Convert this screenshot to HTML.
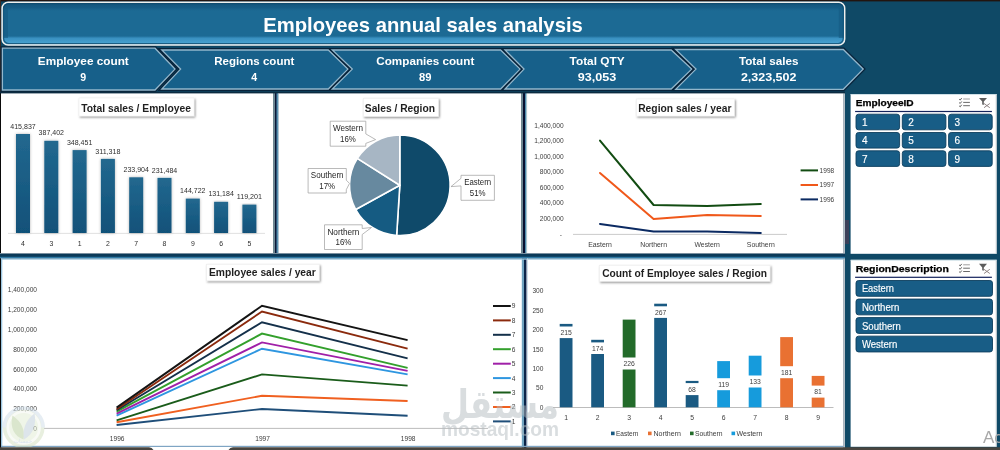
<!DOCTYPE html>
<html lang="en"><head><meta charset="utf-8"><title>Employees annual sales analysis</title>
<style>html,body{margin:0;padding:0;background:#0f4966;overflow:hidden}svg{display:block;font-family:"Liberation Sans", sans-serif}</style>
</head><body>
<svg width="1000" height="450" viewBox="0 0 1000 450">
<defs>
<linearGradient id="gTitle" x1="0" y1="0" x2="0" y2="1">
<stop offset="0" stop-color="#12537a"/><stop offset="0.13" stop-color="#165d86"/><stop offset="0.2" stop-color="#1c6a94"/><stop offset="0.79" stop-color="#1c6a94"/><stop offset="0.84" stop-color="#3990c0"/><stop offset="0.96" stop-color="#47a1d0"/><stop offset="1" stop-color="#2c7eae"/>
</linearGradient>
<linearGradient id="gBar" x1="0" y1="0" x2="0" y2="1">
<stop offset="0" stop-color="#22688f"/><stop offset="1" stop-color="#115179"/>
</linearGradient>
<linearGradient id="gSepH" x1="0" y1="0" x2="0" y2="1">
<stop offset="0" stop-color="#7d93a3"/><stop offset="0.2" stop-color="#0c3c5a"/><stop offset="0.6" stop-color="#0e4566"/><stop offset="0.8" stop-color="#2f7aa5"/><stop offset="1" stop-color="#9cc4dc"/>
</linearGradient>
<filter id="sh" x="-10%" y="-20%" width="125%" height="160%"><feDropShadow dx="1" dy="1.2" stdDeviation="0.9" flood-color="#000" flood-opacity="0.45"/></filter>
<filter id="csh" x="-10%" y="-20%" width="120%" height="140%"><feGaussianBlur stdDeviation="1.6"/></filter>
<filter id="bsh" x="-40%" y="-5%" width="180%" height="110%"><feDropShadow dx="0" dy="0" stdDeviation="1.5" flood-color="#000" flood-opacity="0.3"/></filter>
</defs>
<rect x="0" y="0" width="1000" height="450" fill="#0f4966"/>
<rect x="0" y="0" width="1000" height="1.4" fill="#22140f"/>
<rect x="0" y="0" width="1" height="92" fill="#3a2a22"/>
<rect x="2.1" y="2.2" width="842.6" height="42.8" rx="6" ry="6" fill="#0a2a42" opacity="0.55" filter="url(#csh)"/>
<rect x="2.1" y="2.2" width="842.6" height="42.8" rx="6" ry="6" fill="url(#gTitle)" stroke="#f0f0ee" stroke-width="1.5"/>
<rect x="3.6" y="3.7" width="839.6" height="39.8" rx="5" ry="5" fill="none" stroke="#0f4a6b" stroke-width="1.2" opacity="0.75"/>
<rect x="3" y="8" width="5" height="30" fill="#145a82" opacity="0.6"/>
<rect x="838.8" y="8" width="5" height="30" fill="#145a82" opacity="0.6"/>
<text x="263.2" y="31.9" font-size="20.6" fill="#ffffff" font-weight="bold" textLength="319.6" lengthAdjust="spacingAndGlyphs">Employees annual sales analysis</text>
<polygon points="675.7,49.5 843.3,49.5 863.2,69.1 843.3,89.3 675.7,89.3" fill="#0a2a42" opacity="0.5" filter="url(#csh)"/>
<polygon points="2.4,48.2 155,48.2 175,69.1 155,90 2.4,90" fill="#17608a" stroke="#08233a" stroke-width="3.8" stroke-linejoin="miter"/>
<polygon points="2.4,48.2 155,48.2 175,69.1 155,90 2.4,90" fill="#17608a" stroke="#93b7cc" stroke-width="1.3" stroke-linejoin="miter"/>
<polygon points="161.8,50 328.3,50 347.9,69.1 328.3,89 161.8,89 180.6,69.1" fill="#17608a" stroke="#08233a" stroke-width="3.8" stroke-linejoin="miter"/>
<polygon points="161.8,50 328.3,50 347.9,69.1 328.3,89 161.8,89 180.6,69.1" fill="#17608a" stroke="#93b7cc" stroke-width="1.3" stroke-linejoin="miter"/>
<polygon points="332.3,50 500.6,50 520.1,69.1 500.6,89 332.3,89 352.3,69.1" fill="#17608a" stroke="#08233a" stroke-width="3.8" stroke-linejoin="miter"/>
<polygon points="332.3,50 500.6,50 520.1,69.1 500.6,89 332.3,89 352.3,69.1" fill="#17608a" stroke="#93b7cc" stroke-width="1.3" stroke-linejoin="miter"/>
<polygon points="505,50 671.2,50 691.7,69.1 671.2,89 505,89 524,69.1" fill="#17608a" stroke="#08233a" stroke-width="3.8" stroke-linejoin="miter"/>
<polygon points="505,50 671.2,50 691.7,69.1 671.2,89 505,89 524,69.1" fill="#17608a" stroke="#93b7cc" stroke-width="1.3" stroke-linejoin="miter"/>
<polygon points="675.7,49.5 843.3,49.5 863.2,69.1 843.3,89.3 675.7,89.3 696,69.1" fill="#17608a" stroke="#08233a" stroke-width="3.8" stroke-linejoin="miter"/>
<polygon points="675.7,49.5 843.3,49.5 863.2,69.1 843.3,89.3 675.7,89.3 696,69.1" fill="#17608a" stroke="#93b7cc" stroke-width="1.3" stroke-linejoin="miter"/>
<text x="83.3" y="65" font-size="10.6" fill="#ffffff" text-anchor="middle" font-weight="bold" textLength="91" lengthAdjust="spacingAndGlyphs">Employee count</text>
<text x="83.3" y="81.2" font-size="10.6" fill="#ffffff" text-anchor="middle" font-weight="bold">9</text>
<text x="254.3" y="65" font-size="10.6" fill="#ffffff" text-anchor="middle" font-weight="bold" textLength="80" lengthAdjust="spacingAndGlyphs">Regions count</text>
<text x="254.3" y="81.2" font-size="10.6" fill="#ffffff" text-anchor="middle" font-weight="bold">4</text>
<text x="425.3" y="65" font-size="10.6" fill="#ffffff" text-anchor="middle" font-weight="bold" textLength="98" lengthAdjust="spacingAndGlyphs">Companies count</text>
<text x="425.3" y="81.2" font-size="10.6" fill="#ffffff" text-anchor="middle" font-weight="bold" textLength="12.5" lengthAdjust="spacingAndGlyphs">89</text>
<text x="597.0999999999999" y="65" font-size="10.6" fill="#ffffff" text-anchor="middle" font-weight="bold" textLength="55" lengthAdjust="spacingAndGlyphs">Total QTY</text>
<text x="597.0999999999999" y="81.2" font-size="10.6" fill="#ffffff" text-anchor="middle" font-weight="bold" textLength="38.5" lengthAdjust="spacingAndGlyphs">93,053</text>
<text x="768.6999999999999" y="65" font-size="10.6" fill="#ffffff" text-anchor="middle" font-weight="bold" textLength="59.5" lengthAdjust="spacingAndGlyphs">Total sales</text>
<text x="768.6999999999999" y="81.2" font-size="10.6" fill="#ffffff" text-anchor="middle" font-weight="bold" textLength="55.5" lengthAdjust="spacingAndGlyphs">2,323,502</text>
<rect x="0" y="91.6" width="845" height="358.4" fill="#0c2c42"/>
<rect x="0" y="93.4" width="1" height="357" fill="#0a0a0a"/>
<rect x="1" y="93.4" width="272" height="160" fill="#ffffff"/>
<rect x="278.4" y="93.4" width="242.6" height="160" fill="#ffffff"/>
<rect x="527" y="93.4" width="316.6" height="160" fill="#ffffff"/>
<rect x="1" y="258.6" width="521" height="192" fill="#ffffff"/>
<rect x="527" y="258.6" width="316.6" height="192" fill="#ffffff"/>
<rect x="273" y="93.4" width="2.1" height="160" fill="#6e8792"/>
<rect x="275" y="93.4" width="1.6" height="160" fill="#0a1838"/>
<rect x="276.5" y="93.4" width="1.5" height="160" fill="#4d87ab"/>
<rect x="277.9" y="93.4" width="0.8" height="160" fill="#b9d2df"/>
<rect x="521" y="93.4" width="2.1" height="160" fill="#6e8792"/>
<rect x="523" y="93.4" width="2.1" height="160" fill="#061030"/>
<rect x="525" y="93.4" width="1.1" height="160" fill="#4d87ab"/>
<rect x="526" y="93.4" width="1.1" height="160" fill="#a9c7d0"/>
<rect x="521.8" y="259" width="2.3" height="191" fill="#6fa3c0"/>
<rect x="524" y="259" width="2.1" height="191" fill="#0a2448"/>
<rect x="526" y="259" width="1.1" height="191" fill="#8d93a8"/>
<rect x="843.5" y="93.4" width="1.5" height="357" fill="#b4bfc7"/>
<rect x="845" y="91.6" width="2" height="360" fill="#0f4966"/>
<rect x="845" y="220" width="4" height="24" fill="#3b4059"/>
<rect x="0" y="253" width="845" height="1" fill="#7a8f9f"/>
<rect x="0" y="254" width="845" height="3" fill="#0b3a59"/>
<rect x="0" y="256.8" width="845" height="1.6" fill="#2f7aa5"/>
<rect x="1" y="258.4" width="842.5" height="1.3" fill="#9cc6e0"/>
<rect x="1" y="258.4" width="1.3" height="192" fill="#9cc6e0"/>
<rect x="527" y="258.4" width="0.8" height="192" fill="#c5dcea"/>
<rect x="1" y="445.8" width="842.5" height="1.2" fill="#7fa5c4"/>
<rect x="79" y="98" width="115" height="18" fill="#ffffff" stroke="#ececec" stroke-width="0.5" filter="url(#sh)"/>
<text x="81.3" y="112" font-size="10.4" fill="#1f1f1f" font-weight="bold" textLength="109.6" lengthAdjust="spacingAndGlyphs">Total sales / Employee</text>
<line x1="8" y1="233.4" x2="265" y2="233.4" stroke="#d9d9d9" stroke-width="0.8"/>
<rect x="16.0" y="134.0" width="14" height="99.0" fill="url(#gBar)" filter="url(#bsh)"/>
<text x="23.0" y="128.6" font-size="6.5" fill="#2e2e2e" text-anchor="middle" textLength="25.4" lengthAdjust="spacingAndGlyphs">415,837</text>
<text x="23.0" y="246.1" font-size="6.9" fill="#2e2e2e" text-anchor="middle">4</text>
<rect x="44.3" y="140.8" width="14" height="92.2" fill="url(#gBar)" filter="url(#bsh)"/>
<text x="51.3" y="135.4" font-size="6.5" fill="#2e2e2e" text-anchor="middle" textLength="25.4" lengthAdjust="spacingAndGlyphs">387,402</text>
<text x="51.3" y="246.1" font-size="6.9" fill="#2e2e2e" text-anchor="middle">3</text>
<rect x="72.6" y="150.1" width="14" height="82.9" fill="url(#gBar)" filter="url(#bsh)"/>
<text x="79.6" y="144.7" font-size="6.5" fill="#2e2e2e" text-anchor="middle" textLength="25.4" lengthAdjust="spacingAndGlyphs">348,451</text>
<text x="79.6" y="246.1" font-size="6.9" fill="#2e2e2e" text-anchor="middle">1</text>
<rect x="100.9" y="158.9" width="14" height="74.1" fill="url(#gBar)" filter="url(#bsh)"/>
<text x="107.9" y="153.5" font-size="6.5" fill="#2e2e2e" text-anchor="middle" textLength="25.4" lengthAdjust="spacingAndGlyphs">311,318</text>
<text x="107.9" y="246.1" font-size="6.9" fill="#2e2e2e" text-anchor="middle">2</text>
<rect x="129.2" y="177.3" width="14" height="55.7" fill="url(#gBar)" filter="url(#bsh)"/>
<text x="136.2" y="171.9" font-size="6.5" fill="#2e2e2e" text-anchor="middle" textLength="25.4" lengthAdjust="spacingAndGlyphs">233,904</text>
<text x="136.2" y="246.1" font-size="6.9" fill="#2e2e2e" text-anchor="middle">7</text>
<rect x="157.5" y="177.9" width="14" height="55.1" fill="url(#gBar)" filter="url(#bsh)"/>
<text x="164.5" y="172.5" font-size="6.5" fill="#2e2e2e" text-anchor="middle" textLength="25.4" lengthAdjust="spacingAndGlyphs">231,484</text>
<text x="164.5" y="246.1" font-size="6.9" fill="#2e2e2e" text-anchor="middle">8</text>
<rect x="185.8" y="198.6" width="14" height="34.4" fill="url(#gBar)" filter="url(#bsh)"/>
<text x="192.8" y="193.2" font-size="6.5" fill="#2e2e2e" text-anchor="middle" textLength="25.4" lengthAdjust="spacingAndGlyphs">144,722</text>
<text x="192.8" y="246.1" font-size="6.9" fill="#2e2e2e" text-anchor="middle">9</text>
<rect x="214.1" y="201.8" width="14" height="31.2" fill="url(#gBar)" filter="url(#bsh)"/>
<text x="221.1" y="196.4" font-size="6.5" fill="#2e2e2e" text-anchor="middle" textLength="25.4" lengthAdjust="spacingAndGlyphs">131,184</text>
<text x="221.1" y="246.1" font-size="6.9" fill="#2e2e2e" text-anchor="middle">6</text>
<rect x="242.4" y="204.6" width="14" height="28.4" fill="url(#gBar)" filter="url(#bsh)"/>
<text x="249.4" y="199.2" font-size="6.5" fill="#2e2e2e" text-anchor="middle" textLength="25.4" lengthAdjust="spacingAndGlyphs">119,201</text>
<text x="249.4" y="246.1" font-size="6.9" fill="#2e2e2e" text-anchor="middle">5</text>
<rect x="363.4" y="98.4" width="75.0" height="18.0" fill="#ffffff" stroke="#ececec" stroke-width="0.5" filter="url(#sh)"/>
<text x="364.8" y="112" font-size="10.4" fill="#1f1f1f" font-weight="bold" textLength="70.2" lengthAdjust="spacingAndGlyphs">Sales / Region</text>
<path d="M399.8,185.3 L399.80,135.00 A50.3,50.3 0 1 1 396.64,235.50 Z" fill="#0f4a6a" stroke="#ffffff" stroke-width="1.6" stroke-linejoin="round"/>
<path d="M399.8,185.3 L396.64,235.50 A50.3,50.3 0 0 1 355.72,209.53 Z" fill="#155b82" stroke="#ffffff" stroke-width="1.6" stroke-linejoin="round"/>
<path d="M399.8,185.3 L355.72,209.53 A50.3,50.3 0 0 1 357.33,158.35 Z" fill="#67899f" stroke="#ffffff" stroke-width="1.6" stroke-linejoin="round"/>
<path d="M399.8,185.3 L357.33,158.35 A50.3,50.3 0 0 1 399.80,135.00 Z" fill="#a7b6c4" stroke="#ffffff" stroke-width="1.6" stroke-linejoin="round"/>
<polygon points="330.2,121.2 365.8,121.2 365.8,133.9 375.6,139.6 365.8,143.4 365.8,146.2 330.2,146.2" fill="#ffffff" stroke="#9c9c9c" stroke-width="0.7"/>
<text x="348.0" y="130.9" font-size="8.8" fill="#262626" text-anchor="middle" textLength="30" lengthAdjust="spacingAndGlyphs">Western</text>
<text x="348.0" y="141.8" font-size="8.8" fill="#262626" text-anchor="middle" textLength="15.8" lengthAdjust="spacingAndGlyphs">16%</text>
<polygon points="308.1,168.5 346.3,168.5 346.3,180.2 349.5,183.4 346.3,189.7 346.3,193 308.1,193" fill="#ffffff" stroke="#9c9c9c" stroke-width="0.7"/>
<text x="327.2" y="178.2" font-size="8.8" fill="#262626" text-anchor="middle" textLength="32.7" lengthAdjust="spacingAndGlyphs">Southern</text>
<text x="327.2" y="189.1" font-size="8.8" fill="#262626" text-anchor="middle" textLength="15.8" lengthAdjust="spacingAndGlyphs">17%</text>
<polygon points="324.5,224.8 362.2,224.8 362.2,228.5 371.5,227.5 362.2,234.5 362.2,249.5 324.5,249.5" fill="#ffffff" stroke="#9c9c9c" stroke-width="0.7"/>
<text x="343.4" y="234.5" font-size="8.8" fill="#262626" text-anchor="middle" textLength="32" lengthAdjust="spacingAndGlyphs">Northern</text>
<text x="343.4" y="245.4" font-size="8.8" fill="#262626" text-anchor="middle" textLength="15.8" lengthAdjust="spacingAndGlyphs">16%</text>
<polygon points="461,175.3 494.4,175.3 494.4,200.3 461,200.3 461,185.9 451,186.6 461,178.3" fill="#ffffff" stroke="#9c9c9c" stroke-width="0.7"/>
<text x="477.7" y="185.0" font-size="8.8" fill="#262626" text-anchor="middle" textLength="27" lengthAdjust="spacingAndGlyphs">Eastern</text>
<text x="477.7" y="195.9" font-size="8.8" fill="#262626" text-anchor="middle" textLength="15.8" lengthAdjust="spacingAndGlyphs">51%</text>
<rect x="636.4" y="99" width="98.0" height="17" fill="#ffffff" stroke="#ececec" stroke-width="0.5" filter="url(#sh)"/>
<text x="638.2" y="112" font-size="10.4" fill="#1f1f1f" font-weight="bold" textLength="93.3" lengthAdjust="spacingAndGlyphs">Region sales / year</text>
<text x="563.6" y="127.8" font-size="6.6" fill="#3c3c3c" text-anchor="end">1,400,000</text>
<text x="563.6" y="143.2" font-size="6.6" fill="#3c3c3c" text-anchor="end">1,200,000</text>
<text x="563.6" y="158.7" font-size="6.6" fill="#3c3c3c" text-anchor="end">1,000,000</text>
<text x="563.6" y="174.2" font-size="6.6" fill="#3c3c3c" text-anchor="end">800,000</text>
<text x="563.6" y="189.6" font-size="6.6" fill="#3c3c3c" text-anchor="end">600,000</text>
<text x="563.6" y="205.1" font-size="6.6" fill="#3c3c3c" text-anchor="end">400,000</text>
<text x="563.6" y="220.5" font-size="6.6" fill="#3c3c3c" text-anchor="end">200,000</text>
<text x="562" y="237" font-size="6.6" fill="#3c3c3c" text-anchor="end">-</text>
<line x1="573" y1="234.4" x2="787" y2="234.4" stroke="#c4c4c4" stroke-width="0.9"/>
<polyline points="600,224 653.6,231.6 707.2,231.6 760.8,233" fill="none" stroke="#0b2a62" stroke-width="2" stroke-linejoin="round" stroke-linecap="round"/>
<polyline points="600,173 653.6,219 707.2,215 760.8,216" fill="none" stroke="#f0581a" stroke-width="2" stroke-linejoin="round" stroke-linecap="round"/>
<polyline points="600,140.6 653.6,205 707.2,206 760.8,204" fill="none" stroke="#124c12" stroke-width="2" stroke-linejoin="round" stroke-linecap="round"/>
<text x="600" y="246.8" font-size="6.9" fill="#3c3c3c" text-anchor="middle">Eastern</text>
<text x="653.6" y="246.8" font-size="6.9" fill="#3c3c3c" text-anchor="middle">Northern</text>
<text x="707.2" y="246.8" font-size="6.9" fill="#3c3c3c" text-anchor="middle">Western</text>
<text x="760.8" y="246.8" font-size="6.9" fill="#3c3c3c" text-anchor="middle">Southern</text>
<line x1="800.6" y1="170.4" x2="818" y2="170.4" stroke="#124c12" stroke-width="2"/>
<text x="819.6" y="172.8" font-size="6.6" fill="#3c3c3c" textLength="14.6" lengthAdjust="spacingAndGlyphs">1998</text>
<line x1="800.6" y1="185" x2="818" y2="185" stroke="#f0581a" stroke-width="2"/>
<text x="819.6" y="187.4" font-size="6.6" fill="#3c3c3c" textLength="14.6" lengthAdjust="spacingAndGlyphs">1997</text>
<line x1="800.6" y1="199.4" x2="818" y2="199.4" stroke="#0b2a62" stroke-width="2"/>
<text x="819.6" y="201.8" font-size="6.6" fill="#3c3c3c" textLength="14.6" lengthAdjust="spacingAndGlyphs">1996</text>
<rect x="206.7" y="264.4" width="112.5" height="16.400000000000034" fill="#ffffff" stroke="#ececec" stroke-width="0.5" filter="url(#sh)"/>
<text x="209" y="275.8" font-size="10.4" fill="#1f1f1f" font-weight="bold" textLength="106.8" lengthAdjust="spacingAndGlyphs">Employee sales / year</text>
<text x="37" y="292.3" font-size="6.6" fill="#3c3c3c" text-anchor="end">1,400,000</text>
<text x="37" y="312.1" font-size="6.6" fill="#3c3c3c" text-anchor="end">1,200,000</text>
<text x="37" y="331.9" font-size="6.6" fill="#3c3c3c" text-anchor="end">1,000,000</text>
<text x="37" y="351.7" font-size="6.6" fill="#3c3c3c" text-anchor="end">800,000</text>
<text x="37" y="371.5" font-size="6.6" fill="#3c3c3c" text-anchor="end">600,000</text>
<text x="37" y="391.3" font-size="6.6" fill="#3c3c3c" text-anchor="end">400,000</text>
<text x="37" y="411.1" font-size="6.6" fill="#3c3c3c" text-anchor="end">200,000</text>
<text x="37" y="430.9" font-size="6.6" fill="#3c3c3c" text-anchor="end">0</text>
<line x1="44" y1="428.4" x2="488" y2="428.4" stroke="#b4b4b4" stroke-width="0.9"/>
<polyline points="116.6,425 262,409 407.6,415.8" fill="none" stroke="#1f4e79" stroke-width="1.9" stroke-linejoin="miter"/>
<polyline points="116.6,422.3 262,395.8 407.6,401" fill="none" stroke="#f06020" stroke-width="1.9" stroke-linejoin="miter"/>
<polyline points="116.6,420.4 262,374.4 407.6,385.6" fill="none" stroke="#1a5c1a" stroke-width="1.9" stroke-linejoin="miter"/>
<polyline points="116.6,415.6 262,348.7 407.6,374.4" fill="none" stroke="#2e96e0" stroke-width="1.9" stroke-linejoin="miter"/>
<polyline points="116.6,413.7 262,342.4 407.6,370.9" fill="none" stroke="#a020a8" stroke-width="1.9" stroke-linejoin="miter"/>
<polyline points="116.6,411.6 262,333.6 407.6,367.8" fill="none" stroke="#33a02c" stroke-width="1.9" stroke-linejoin="miter"/>
<polyline points="116.6,410.3 262,322.3 407.6,358.4" fill="none" stroke="#14304a" stroke-width="1.9" stroke-linejoin="miter"/>
<polyline points="116.6,409.3 262,311.5 407.6,348.7" fill="none" stroke="#8b2a0d" stroke-width="1.9" stroke-linejoin="miter"/>
<polyline points="116.6,407.6 262,305.8 407.6,340.2" fill="none" stroke="#141414" stroke-width="1.9" stroke-linejoin="miter"/>
<text x="117.19999999999999" y="441.2" font-size="6.6" fill="#3c3c3c" text-anchor="middle">1996</text>
<text x="262.6" y="441.2" font-size="6.6" fill="#3c3c3c" text-anchor="middle">1997</text>
<text x="408.20000000000005" y="441.2" font-size="6.6" fill="#3c3c3c" text-anchor="middle">1998</text>
<line x1="493" y1="421.4" x2="510.8" y2="421.4" stroke="#1f4e79" stroke-width="2"/>
<text x="511.8" y="423.8" font-size="6.6" fill="#3c3c3c">1</text>
<line x1="493" y1="407.0" x2="510.8" y2="407.0" stroke="#f06020" stroke-width="2"/>
<text x="511.8" y="409.4" font-size="6.6" fill="#3c3c3c">2</text>
<line x1="493" y1="392.5" x2="510.8" y2="392.5" stroke="#1a5c1a" stroke-width="2"/>
<text x="511.8" y="394.9" font-size="6.6" fill="#3c3c3c">3</text>
<line x1="493" y1="378.1" x2="510.8" y2="378.1" stroke="#2e96e0" stroke-width="2"/>
<text x="511.8" y="380.5" font-size="6.6" fill="#3c3c3c">4</text>
<line x1="493" y1="363.7" x2="510.8" y2="363.7" stroke="#a020a8" stroke-width="2"/>
<text x="511.8" y="366.1" font-size="6.6" fill="#3c3c3c">5</text>
<line x1="493" y1="349.2" x2="510.8" y2="349.2" stroke="#33a02c" stroke-width="2"/>
<text x="511.8" y="351.6" font-size="6.6" fill="#3c3c3c">6</text>
<line x1="493" y1="334.8" x2="510.8" y2="334.8" stroke="#14304a" stroke-width="2"/>
<text x="511.8" y="337.2" font-size="6.6" fill="#3c3c3c">7</text>
<line x1="493" y1="320.4" x2="510.8" y2="320.4" stroke="#8b2a0d" stroke-width="2"/>
<text x="511.8" y="322.8" font-size="6.6" fill="#3c3c3c">8</text>
<line x1="493" y1="306.0" x2="510.8" y2="306.0" stroke="#141414" stroke-width="2"/>
<text x="511.8" y="308.4" font-size="6.6" fill="#3c3c3c">9</text>
<rect x="599.6" y="265.4" width="170.39999999999998" height="15.800000000000011" fill="#ffffff" stroke="#ececec" stroke-width="0.5" filter="url(#sh)"/>
<text x="602.2" y="276.8" font-size="10.4" fill="#1f1f1f" font-weight="bold" textLength="164.7" lengthAdjust="spacingAndGlyphs">Count of Employee sales / Region</text>
<text x="543.4" y="293.4" font-size="6.6" fill="#3c3c3c" text-anchor="end">300</text>
<text x="543.4" y="312.8" font-size="6.6" fill="#3c3c3c" text-anchor="end">250</text>
<text x="543.4" y="332.2" font-size="6.6" fill="#3c3c3c" text-anchor="end">200</text>
<text x="543.4" y="351.6" font-size="6.6" fill="#3c3c3c" text-anchor="end">150</text>
<text x="543.4" y="371.0" font-size="6.6" fill="#3c3c3c" text-anchor="end">100</text>
<text x="543.4" y="390.4" font-size="6.6" fill="#3c3c3c" text-anchor="end">50</text>
<text x="543.4" y="409.8" font-size="6.6" fill="#3c3c3c" text-anchor="end">0</text>
<line x1="553" y1="407.5" x2="833.5" y2="407.5" stroke="#b4b4b4" stroke-width="0.9"/>
<rect x="559.7" y="323.9" width="12.8" height="83.4" fill="#1a5a82"/>
<rect x="558.7" y="326.5" width="14.8" height="11.6" fill="#ffffff"/>
<text x="566.1" y="334.8" font-size="6.8" fill="#404040" text-anchor="middle">215</text>
<text x="566.1" y="419.6" font-size="6.8" fill="#3c3c3c" text-anchor="middle">1</text>
<rect x="591.2" y="339.8" width="12.8" height="67.5" fill="#1a5a82"/>
<rect x="590.2" y="342.4" width="14.8" height="11.6" fill="#ffffff"/>
<text x="597.6" y="350.7" font-size="6.8" fill="#404040" text-anchor="middle">174</text>
<text x="597.6" y="419.6" font-size="6.8" fill="#3c3c3c" text-anchor="middle">2</text>
<rect x="622.7" y="319.6" width="12.8" height="87.7" fill="#236b2a"/>
<rect x="621.7" y="357.5" width="14.8" height="12" fill="#ffffff"/>
<text x="629.1" y="366.0" font-size="6.8" fill="#404040" text-anchor="middle">226</text>
<text x="629.1" y="419.6" font-size="6.8" fill="#3c3c3c" text-anchor="middle">3</text>
<rect x="654.2" y="303.7" width="12.8" height="103.6" fill="#1a5a82"/>
<rect x="653.2" y="306.3" width="14.8" height="11.6" fill="#ffffff"/>
<text x="660.6" y="314.6" font-size="6.8" fill="#404040" text-anchor="middle">267</text>
<text x="660.6" y="419.6" font-size="6.8" fill="#3c3c3c" text-anchor="middle">4</text>
<rect x="685.7" y="380.9" width="12.8" height="26.4" fill="#1a5a82"/>
<rect x="684.7" y="383.1" width="14.8" height="12" fill="#ffffff"/>
<text x="692.1" y="391.6" font-size="6.8" fill="#404040" text-anchor="middle">68</text>
<text x="692.1" y="419.6" font-size="6.8" fill="#3c3c3c" text-anchor="middle">5</text>
<rect x="717.2" y="361.1" width="12.8" height="46.2" fill="#169bdc"/>
<rect x="716.2" y="378.2" width="14.8" height="12" fill="#ffffff"/>
<text x="723.6" y="386.7" font-size="6.8" fill="#404040" text-anchor="middle">119</text>
<text x="723.6" y="419.6" font-size="6.8" fill="#3c3c3c" text-anchor="middle">6</text>
<rect x="748.7" y="355.7" width="12.8" height="51.6" fill="#169bdc"/>
<rect x="747.7" y="375.5" width="14.8" height="12" fill="#ffffff"/>
<text x="755.1" y="384.0" font-size="6.8" fill="#404040" text-anchor="middle">133</text>
<text x="755.1" y="419.6" font-size="6.8" fill="#3c3c3c" text-anchor="middle">7</text>
<rect x="780.2" y="337.1" width="12.8" height="70.2" fill="#e97132"/>
<rect x="779.2" y="366.2" width="14.8" height="12" fill="#ffffff"/>
<text x="786.6" y="374.7" font-size="6.8" fill="#404040" text-anchor="middle">181</text>
<text x="786.6" y="419.6" font-size="6.8" fill="#3c3c3c" text-anchor="middle">8</text>
<rect x="811.7" y="375.9" width="12.8" height="31.4" fill="#e97132"/>
<rect x="810.7" y="385.6" width="14.8" height="12" fill="#ffffff"/>
<text x="818.1" y="394.1" font-size="6.8" fill="#404040" text-anchor="middle">81</text>
<text x="818.1" y="419.6" font-size="6.8" fill="#3c3c3c" text-anchor="middle">9</text>
<rect x="611" y="431.6" width="3.6" height="3.6" fill="#1a5a82"/>
<text x="616" y="435.9" font-size="6.6" fill="#3c3c3c" textLength="22.5" lengthAdjust="spacingAndGlyphs">Eastern</text>
<rect x="648" y="431.6" width="3.6" height="3.6" fill="#e97132"/>
<text x="653.5" y="435.9" font-size="6.6" fill="#3c3c3c" textLength="27.5" lengthAdjust="spacingAndGlyphs">Northern</text>
<rect x="690" y="431.6" width="3.6" height="3.6" fill="#236b2a"/>
<text x="695" y="435.9" font-size="6.6" fill="#3c3c3c" textLength="27.5" lengthAdjust="spacingAndGlyphs">Southern</text>
<rect x="731.5" y="431.6" width="3.6" height="3.6" fill="#169bdc"/>
<text x="736.5" y="435.9" font-size="6.6" fill="#3c3c3c" textLength="26.0" lengthAdjust="spacingAndGlyphs">Western</text>
<rect x="850.6" y="94" width="146" height="159.8" fill="#ffffff"/>
<rect x="850.6" y="94" width="146" height="0.8" fill="#c3d9e2"/>
<rect x="995.7" y="94" width="0.9" height="159.8" fill="#c9cfd3"/>
<text x="855.7" y="106" font-size="9.6" fill="#000000" font-weight="bold" textLength="58" lengthAdjust="spacingAndGlyphs" stroke="#000" stroke-width="0.25">EmployeeID</text>
<rect x="855.1" y="110.9" width="136.8" height="1.2" fill="#14235c"/>
<line x1="963.2" y1="99" x2="969.9" y2="99" stroke="#a0a0a0" stroke-width="1"/>
<path d="M959.2,99.2l1,0.9l1.5,-2" stroke="#4a4a4a" stroke-width="0.9" fill="none"/>
<line x1="963.2" y1="102.4" x2="969.9" y2="102.4" stroke="#6a6a6a" stroke-width="1"/>
<path d="M959.2,102.6l1,0.9l1.5,-2" stroke="#4a4a4a" stroke-width="0.9" fill="none"/>
<line x1="963.2" y1="105.7" x2="969.9" y2="105.7" stroke="#6a6a6a" stroke-width="1"/>
<path d="M959.2,105.9l1,0.9l1.5,-2" stroke="#4a4a4a" stroke-width="0.9" fill="none"/>
<path d="M979.0,97.9h8l-3.2,3.7v3.4l-1.6,-0.6v-2.8z" fill="#5c5c5c"/>
<path d="M984.0,103.5l5.8,4.2M989.8,103.5l-5.8,4.2" stroke="#857878" stroke-width="0.9" fill="none"/>
<rect x="856.0" y="114.2" width="43.6" height="15.6" rx="2.6" ry="2.6" fill="#185d86" stroke="#0d3e5e" stroke-width="0.9"/>
<text x="861.9" y="126.1" font-size="10" fill="#ffffff" stroke="#fff" stroke-width="0.15">1</text>
<rect x="902.3" y="114.2" width="43.6" height="15.6" rx="2.6" ry="2.6" fill="#185d86" stroke="#0d3e5e" stroke-width="0.9"/>
<text x="908.2" y="126.1" font-size="10" fill="#ffffff" stroke="#fff" stroke-width="0.15">2</text>
<rect x="948.6" y="114.2" width="43.6" height="15.6" rx="2.6" ry="2.6" fill="#185d86" stroke="#0d3e5e" stroke-width="0.9"/>
<text x="954.5" y="126.1" font-size="10" fill="#ffffff" stroke="#fff" stroke-width="0.15">3</text>
<rect x="856.0" y="132.5" width="43.6" height="15.6" rx="2.6" ry="2.6" fill="#185d86" stroke="#0d3e5e" stroke-width="0.9"/>
<text x="861.9" y="144.4" font-size="10" fill="#ffffff" stroke="#fff" stroke-width="0.15">4</text>
<rect x="902.3" y="132.5" width="43.6" height="15.6" rx="2.6" ry="2.6" fill="#185d86" stroke="#0d3e5e" stroke-width="0.9"/>
<text x="908.2" y="144.4" font-size="10" fill="#ffffff" stroke="#fff" stroke-width="0.15">5</text>
<rect x="948.6" y="132.5" width="43.6" height="15.6" rx="2.6" ry="2.6" fill="#185d86" stroke="#0d3e5e" stroke-width="0.9"/>
<text x="954.5" y="144.4" font-size="10" fill="#ffffff" stroke="#fff" stroke-width="0.15">6</text>
<rect x="856.0" y="150.8" width="43.6" height="15.6" rx="2.6" ry="2.6" fill="#185d86" stroke="#0d3e5e" stroke-width="0.9"/>
<text x="861.9" y="162.7" font-size="10" fill="#ffffff" stroke="#fff" stroke-width="0.15">7</text>
<rect x="902.3" y="150.8" width="43.6" height="15.6" rx="2.6" ry="2.6" fill="#185d86" stroke="#0d3e5e" stroke-width="0.9"/>
<text x="908.2" y="162.7" font-size="10" fill="#ffffff" stroke="#fff" stroke-width="0.15">8</text>
<rect x="948.6" y="150.8" width="43.6" height="15.6" rx="2.6" ry="2.6" fill="#185d86" stroke="#0d3e5e" stroke-width="0.9"/>
<text x="954.5" y="162.7" font-size="10" fill="#ffffff" stroke="#fff" stroke-width="0.15">9</text>
<rect x="850.6" y="259.8" width="146" height="187" fill="#ffffff"/>
<rect x="850.6" y="259.8" width="146" height="0.8" fill="#c3d9e2"/>
<rect x="995.7" y="259.8" width="0.9" height="187" fill="#c9cfd3"/>
<text x="855.7" y="271.8" font-size="9.6" fill="#000000" font-weight="bold" textLength="93.2" lengthAdjust="spacingAndGlyphs" stroke="#000" stroke-width="0.25">RegionDescription</text>
<rect x="855.1" y="276.7" width="136.8" height="1.2" fill="#14235c"/>
<line x1="963.2" y1="264.8" x2="969.9" y2="264.8" stroke="#a0a0a0" stroke-width="1"/>
<path d="M959.2,265.0l1,0.9l1.5,-2" stroke="#4a4a4a" stroke-width="0.9" fill="none"/>
<line x1="963.2" y1="268.2" x2="969.9" y2="268.2" stroke="#6a6a6a" stroke-width="1"/>
<path d="M959.2,268.4l1,0.9l1.5,-2" stroke="#4a4a4a" stroke-width="0.9" fill="none"/>
<line x1="963.2" y1="271.5" x2="969.9" y2="271.5" stroke="#6a6a6a" stroke-width="1"/>
<path d="M959.2,271.7l1,0.9l1.5,-2" stroke="#4a4a4a" stroke-width="0.9" fill="none"/>
<path d="M979.0,263.7h8l-3.2,3.7v3.4l-1.6,-0.6v-2.8z" fill="#5c5c5c"/>
<path d="M984.0,269.3l5.8,4.2M989.8,269.3l-5.8,4.2" stroke="#857878" stroke-width="0.9" fill="none"/>
<rect x="856" y="280.5" width="136.5" height="15.8" rx="2.6" ry="2.6" fill="#185d86" stroke="#0d3e5e" stroke-width="0.9"/>
<text x="861.9" y="292.4" font-size="10" fill="#ffffff" textLength="32" lengthAdjust="spacingAndGlyphs" stroke="#fff" stroke-width="0.15">Eastern</text>
<rect x="856" y="299.05" width="136.5" height="15.8" rx="2.6" ry="2.6" fill="#185d86" stroke="#0d3e5e" stroke-width="0.9"/>
<text x="861.9" y="310.9" font-size="10" fill="#ffffff" textLength="37.5" lengthAdjust="spacingAndGlyphs" stroke="#fff" stroke-width="0.15">Northern</text>
<rect x="856" y="317.6" width="136.5" height="15.8" rx="2.6" ry="2.6" fill="#185d86" stroke="#0d3e5e" stroke-width="0.9"/>
<text x="861.9" y="329.5" font-size="10" fill="#ffffff" textLength="39" lengthAdjust="spacingAndGlyphs" stroke="#fff" stroke-width="0.15">Southern</text>
<rect x="856" y="336.15" width="136.5" height="15.8" rx="2.6" ry="2.6" fill="#185d86" stroke="#0d3e5e" stroke-width="0.9"/>
<text x="861.9" y="348.0" font-size="10" fill="#ffffff" textLength="35.5" lengthAdjust="spacingAndGlyphs" stroke="#fff" stroke-width="0.15">Western</text>
<g opacity="0.5" fill="#b4bcc1">
<text x="500" y="418" font-size="40" font-weight="bold" text-anchor="middle" font-family="&quot;DejaVu Sans&quot;, sans-serif" textLength="118" lengthAdjust="spacingAndGlyphs">مستقل</text>
<text x="441" y="436" font-size="20.5" font-weight="bold" textLength="118" lengthAdjust="spacingAndGlyphs">mostaql.com</text>
</g>
<g opacity="0.55"><circle cx="23.7" cy="427.5" r="19" fill="#f3f7f0" stroke="#d6e3c6" stroke-width="3.6"/><path d="M4.2,427.5a19.5,19.5 0 0 1 39,0" fill="none" stroke="#d3e0ea" stroke-width="3.6"/><circle cx="23.7" cy="427.5" r="14.5" fill="#e3edd6"/><path d="M12.5,415.5c-3,12,2,21,11,24c2,-9,-2,-18,-11,-24z" fill="#bdd2a6"/><path d="M34.5,413.5c2,10,-1,21,-10.5,26c-2,-10,2,-20,10.5,-26z" fill="#c3d0db"/><text x="23" y="443" font-size="5.5" fill="#b8cede" text-anchor="middle" font-family="&quot;DejaVu Sans&quot;, sans-serif">خمسات</text></g>
<text x="983" y="442.7" font-size="17" fill="#a8a8a8">Ac</text>
<path d="M0,450V447.2H149Q152,447.2 153.5,450Z" fill="#49453f"/>
<path d="M1000,450V447.2H233Q230,447.2 228.5,450Z" fill="#49453f"/>
</svg></body></html>
